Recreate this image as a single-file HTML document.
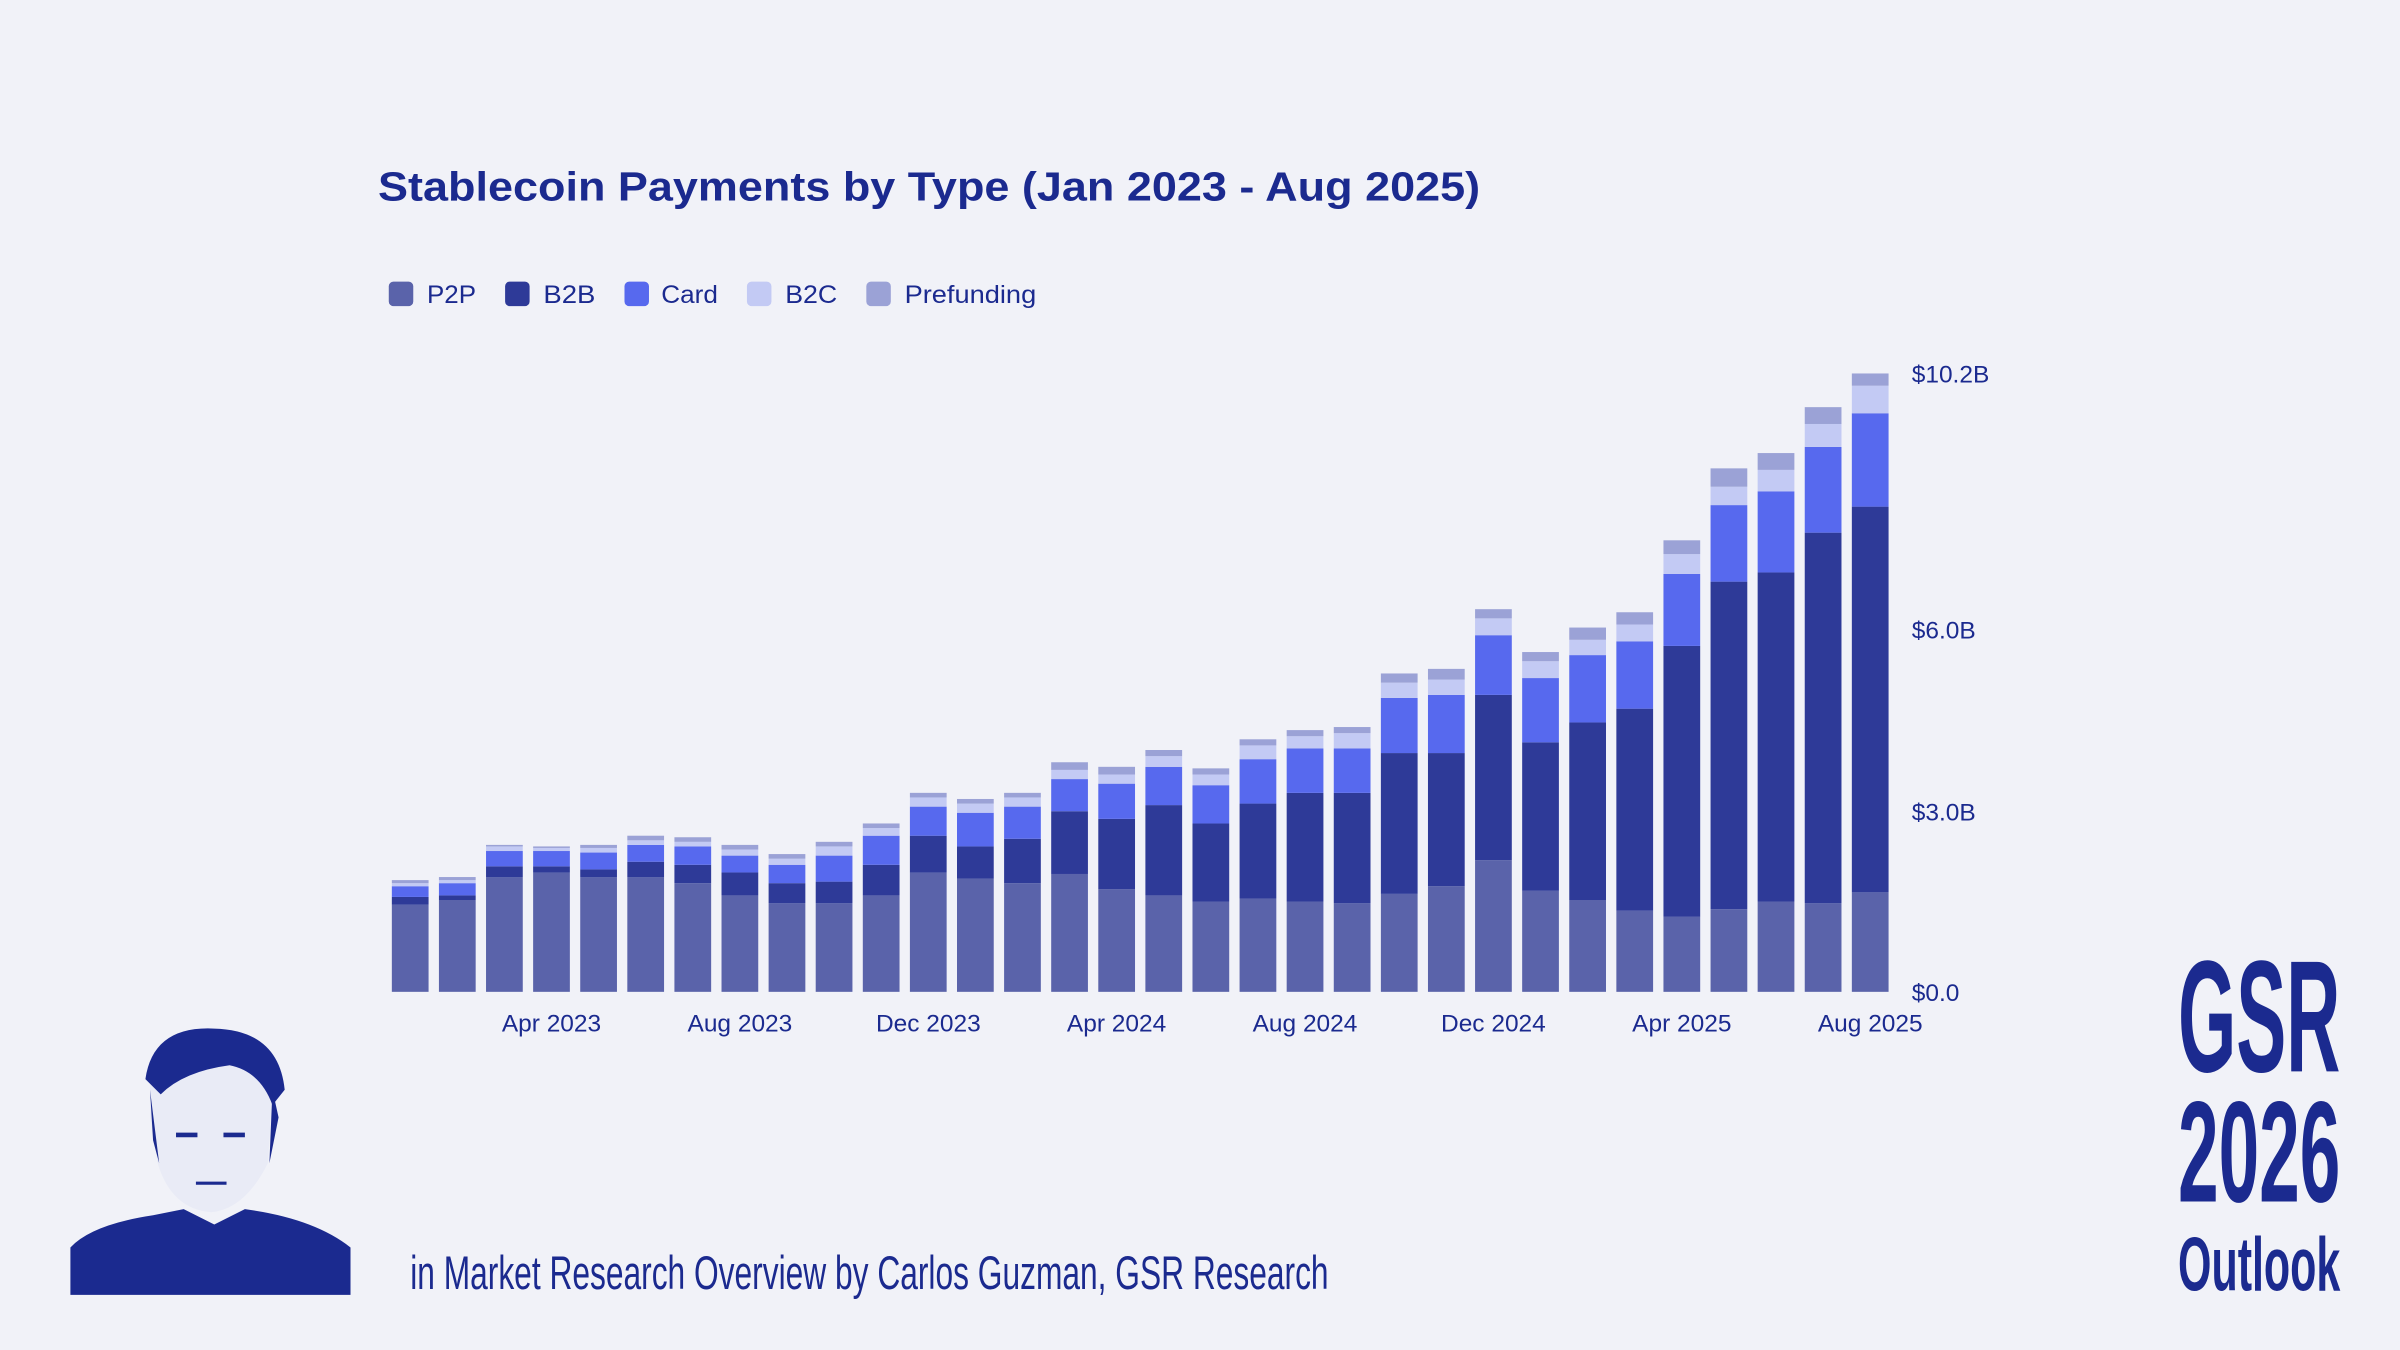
<!DOCTYPE html>
<html><head><meta charset="utf-8"><style>
html,body{margin:0;padding:0;background:#f1f2f8;}
svg{display:block}
</style></head><body>
<svg id="s" width="2400" height="1350" viewBox="0 0 1568 882" preserveAspectRatio="none" xmlns="http://www.w3.org/2000/svg">
<rect width="1568" height="882" fill="#f1f2f8"/>
<text x="247" y="131" font-family="Liberation Sans, sans-serif" font-weight="bold" font-size="26.5" fill="#1b2a8f" textLength="720" lengthAdjust="spacingAndGlyphs">Stablecoin Payments by Type (Jan 2023 - Aug 2025)</text>
<g font-family="Liberation Sans, sans-serif" font-size="16.5" fill="#1b2a8f">
<rect x="254" y="184" width="16" height="16" rx="3" fill="#5a63aa"/><text x="279" y="198" textLength="32" lengthAdjust="spacingAndGlyphs">P2P</text>
<rect x="330" y="184" width="16" height="16" rx="3" fill="#2e3a98"/><text x="355" y="198" textLength="34" lengthAdjust="spacingAndGlyphs">B2B</text>
<rect x="408" y="184" width="16" height="16" rx="3" fill="#5769ee"/><text x="432" y="198" textLength="37" lengthAdjust="spacingAndGlyphs">Card</text>
<rect x="488" y="184" width="16" height="16" rx="3" fill="#c3caf4"/><text x="513" y="198" textLength="34" lengthAdjust="spacingAndGlyphs">B2C</text>
<rect x="566" y="184" width="16" height="16" rx="3" fill="#9ba2d6"/><text x="591" y="198" textLength="86" lengthAdjust="spacingAndGlyphs">Prefunding</text>
</g>
<g id="bars"></g>
<g font-family="Liberation Sans, sans-serif" font-size="16" fill="#1b2a8f">
<text x="1249" y="250">$10.2B</text>
<text x="1249" y="417">$6.0B</text>
<text x="1249" y="536">$3.0B</text>
<text x="1249" y="654">$0.0</text>
</g>
<g id="xl" font-family="Liberation Sans, sans-serif" font-size="16" fill="#1b2a8f" text-anchor="middle"></g>
<g fill="#1b2a8f">
<path d="M46 846 L46 815 Q60 800 100 794 L120 790 L140 800 L160 790 Q205 796 229 815 L229 846 Z"/>
<path d="M98 700 Q105 672 140 673 Q180 676 185 705 L178 712 L175 760 Q160 790 138 792 Q112 790 103 760 L98 730 Z" fill="#e9ebf6"/>
<path d="M95 705 Q100 670 140 672 Q182 673 186 712 L178 722 Q170 700 150 696 Q120 700 105 715 Z"/>
<path d="M115 740 h14 v3 h-14z M146 740 h14 v3 h-14z M128 772 h20 v2 h-20z" />
<path d="M98 712 L104 760 L100 745 Z M178 712 L176 760 L182 730 Z"/>
</g>
<text x="268" y="842" font-family="Liberation Sans Narrow, Liberation Sans, sans-serif" font-size="31" fill="#1b2a8f" textLength="600" lengthAdjust="spacingAndGlyphs">in Market Research Overview by Carlos Guzman, GSR Research</text>
<g font-family="Liberation Sans Narrow, Liberation Sans, sans-serif" font-weight="bold" fill="#1b2a8f">
<text x="1423" y="700" font-size="104" textLength="106" lengthAdjust="spacingAndGlyphs">GSR</text>
<text x="1423" y="785" font-size="94" textLength="106" lengthAdjust="spacingAndGlyphs">2026</text>
<text x="1423" y="843" font-size="50" textLength="106" lengthAdjust="spacingAndGlyphs">Outlook</text>
</g>
</svg>
<script>
var d=[[591,586,579,577,575],[588,585,577,575,573],[573,566,556,553,552],[570,566,556,554,553],[573,568,557,554,552],[573,563,552,549,546],[577,565,553,550,547],[585,570,559,555,552],[590,577,565,561,558],[590,576,559,553,550],[585,565,546,541,538],[570,546,527,521,518],[574,553,531,525,522],[577,548,527,521,518],[571,530,509,503,498],[581,535,512,506,501],[585,526,501,494,490],[589,538,513,506,502],[587,525,496,487,483],[589,518,489,481,477],[590,518,489,479,475],[584,492,456,446,440],[579,492,454,444,437],[562,454,415,404,398],[582,485,443,432,426],[588,472,428,418,410],[595,463,419,408,400],[599,422,375,362,353],[594,380,330,318,306],[589,374,321,307,296],[590,348,292,277,266],[583,331,270,252,244]];
var cols=["#5a63aa","#2e3a98","#5769ee","#c3caf4","#9ba2d6"];
var g=document.getElementById("bars"),h="";
for(var i=0;i<d.length;i++){var x=256+i*30.77,prev=648;
for(var k=0;k<5;k++){var t=d[i][k];h+='<rect x="'+x.toFixed(2)+'" y="'+t+'" width="24" height="'+(prev-t)+'" fill="'+cols[k]+'"/>';prev=t;}}
g.innerHTML=h;
var lab=["Apr 2023","Aug 2023","Dec 2023","Apr 2024","Aug 2024","Dec 2024","Apr 2025","Aug 2025"],s="";
for(var j=0;j<8;j++){var cx=268+(3+4*j)*30.77;s+='<text x="'+cx.toFixed(1)+'" y="674">'+lab[j]+'</text>';}
document.getElementById("xl").innerHTML=s;
</script>
</body></html>
